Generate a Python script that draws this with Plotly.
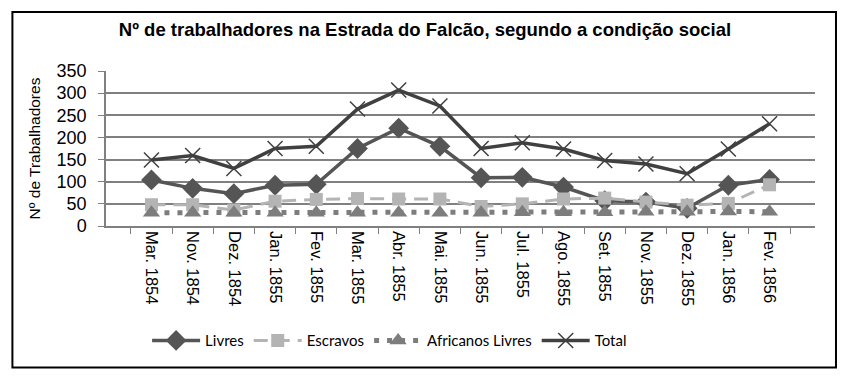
import plotly.graph_objects as go

categories = ["Mar. 1854", "Nov. 1854", "Dez. 1854", "Jan. 1855", "Fev. 1855", "Mar. 1855",
              "Abr. 1855", "Mai. 1855", "Jun. 1855", "Jul. 1855", "Ago. 1855", "Set. 1855",
              "Nov. 1855", "Dez. 1855", "Jan. 1856", "Fev. 1856"]
livres = [104, 85, 73, 92, 94, 175, 221, 180, 109, 110, 88, 57, 54, 40, 92, 105]
escravos = [48, 48, 36, 56, 60, 62, 61, 61, 44, 50, 61, 63, 54, 47, 51, 93]
africanos = [30, 30, 30, 30, 30, 30, 30, 30, 30, 31, 31, 31, 32, 32, 33, 32]
total = [149, 159, 130, 175, 180, 264, 307, 271, 175, 188, 174, 148, 140, 118, 174, 231]
yticks = [0, 50, 100, 150, 200, 250, 300, 350]

fig = go.Figure()
fig.add_trace(go.Scatter(x=categories, y=livres, name="Livres", mode="lines+markers",
                         line=dict(color="#555555", width=3.5),
                         marker=dict(symbol="diamond", size=16, color="#555555")))
fig.add_trace(go.Scatter(x=categories, y=escravos, name="Escravos", mode="lines+markers",
                         line=dict(color="#b4b4b4", width=3, dash="14px,8px"),
                         marker=dict(symbol="square", size=13, color="#b4b4b4")))
fig.add_trace(go.Scatter(x=categories, y=africanos, name="Africanos Livres", mode="lines+markers",
                         line=dict(color="#7d7d7d", width=5, dash="5px,8px"),
                         marker=dict(symbol="triangle-up", size=15, color="#7d7d7d")))
fig.add_trace(go.Scatter(x=categories, y=total, name="Total", mode="lines+markers",
                         line=dict(color="#404040", width=3.5),
                         marker=dict(symbol="x-thin", size=15, color="#404040",
                                     line=dict(width=1.5, color="#404040"))))

fig.update_layout(
    width=850, height=381,
    margin=dict(l=106, r=35, t=70.5, b=154.5, autoexpand=False),
    paper_bgcolor="white", plot_bgcolor="white",
    font=dict(family="Arial, Liberation Sans, sans-serif", color="black"),
    title=dict(text="<b>Nº de trabalhadores na Estrada do Falcão, segundo a condição social</b>",
               x=0.5, xanchor="center", y=1 - 30 / 381, yanchor="middle",
               font=dict(size=18.5, color="black")),
    xaxis=dict(type="category", tickangle=90, tickfont=dict(size=16.5), automargin=False,
               showgrid=False, showline=True, linecolor="#808080", linewidth=1.5,
               ticks="outside", tickson="boundaries", ticklen=6, tickcolor="#808080"),
    yaxis=dict(range=[0, 350], tickvals=yticks, tickfont=dict(size=18), automargin=False,
               showgrid=True, gridcolor="#808080", gridwidth=1.5,
               showline=True, linecolor="#808080", linewidth=1.5,
               ticks="outside", ticklen=6, tickcolor="#808080", ticklabelstandoff=8,
               title=dict(text="Nº de Trabalhadores", font=dict(size=15.5), standoff=12)),
    showlegend=True,
    legend=dict(orientation="h", x=0.40, xanchor="center", y=-0.74, yanchor="middle",
                font=dict(family="Lato, Open Sans, sans-serif", size=15), itemwidth=48,
                bgcolor="rgba(0,0,0,0)"),
)
fig.add_shape(type="rect", xref="paper", yref="paper",
              x0=-0.132, x1=1.0296, y0=-0.913, y1=1.381,
              line=dict(color="black", width=2), fillcolor="rgba(0,0,0,0)", layer="below")

fig.write_html("out.html", config={"displayModeBar": False},
               post_script="document.body.style.margin='0';")
